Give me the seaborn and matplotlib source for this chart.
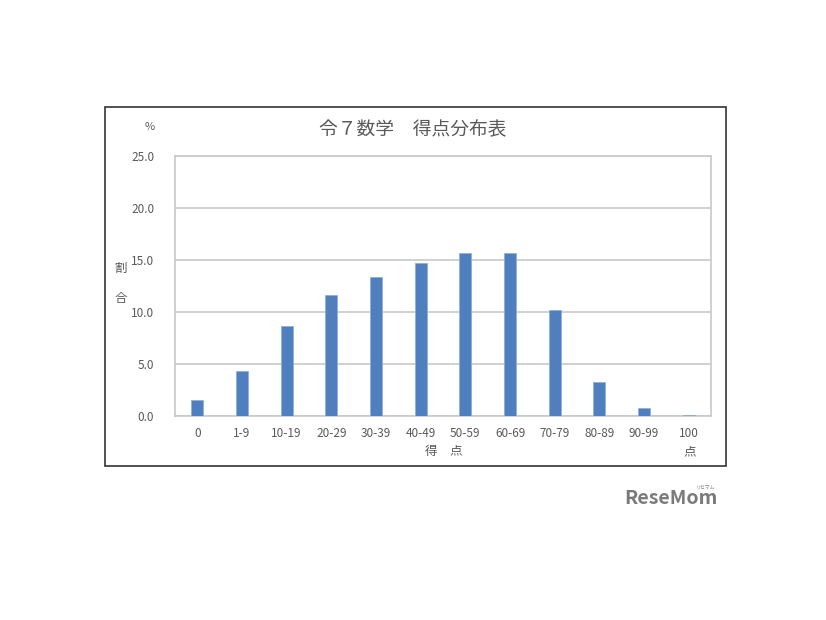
import matplotlib
matplotlib.use("Agg")
import matplotlib.pyplot as plt
import seaborn as sns
import pandas as pd
from matplotlib.patches import Rectangle

categories = ["0", "1-9", "10-19", "20-29", "30-39", "40-49", "50-59",
              "60-69", "70-79", "80-89", "90-99", "100"]
values = [1.5, 4.3, 8.7, 11.6, 13.4, 14.7, 15.7, 15.7, 10.2, 3.3, 0.8, 0.1]
yticks = [0, 5, 10, 15, 20, 25]

sns.set_theme(style="white")
plt.rcParams['font.family'] = ['Noto Sans CJK JP', 'DejaVu Sans']

df = pd.DataFrame({"cat": categories, "val": values})

fig = plt.figure(figsize=(8.26, 6.2), dpi=100)
fig.patch.set_facecolor("white")
ax = fig.add_axes([175/826, 1-416/620, (711-175)/826, (416-156)/620])

sns.barplot(data=df, x="cat", y="val", color="#4f7fbe", width=0.27,
            saturation=1, ax=ax, zorder=3)
for p in ax.patches:
    p.set_edgecolor("#8fb0dc")
    p.set_linewidth(0.6)

ax.set_xlim(-0.5, len(categories) - 0.5)
ax.set_ylim(0, 25)
ax.set_yticks(yticks)
ax.set_yticklabels([f"{v:.1f}" for v in yticks])
ax.yaxis.grid(True, color="#c8c8c8", linewidth=1.2, zorder=0)
ax.set_axisbelow(True)
for s in ax.spines.values():
    s.set_color("#c8c8c8")
    s.set_linewidth(1.2)
ax.tick_params(axis="both", length=0, labelsize=8.5, labelcolor="#595959")
ax.tick_params(axis="x", pad=8)
ax.tick_params(axis="y", pad=15)
ax.set_xlabel("")
ax.set_ylabel("")

gray = "#595959"
fig.text(0.5, 1-130/620, "令７数学　得点分布表", ha="center", va="center",
         fontsize=13.5, color=gray)
fig.text(150/826, 1-127/620, "%", ha="center", va="center", fontsize=8, color=gray)
fig.text(121/826, 1-268/620, "割", ha="center", va="center", fontsize=9, color=gray)
fig.text(121/826, 1-298/620, "合", ha="center", va="center", fontsize=9, color=gray)
fig.text(444/826, 1-452/620, "得　点", ha="center", va="center", fontsize=9, color=gray)
fig.text(690/826, 1-452/620, "点", ha="center", va="center", fontsize=9, color=gray)

fig.patches.append(Rectangle((105/826, 1-466/620), (726-105)/826, (466-107)/620,
                             transform=fig.transFigure, fill=False,
                             edgecolor="#333333", linewidth=1.2))

fig.text(671/826, 1-498/620, "ReseMom", ha="center", va="center",
         fontsize=14, fontweight="bold", color="#7a7a7a")
fig.text(706/826, 1-487/620, "リセマム", ha="center", va="center",
         fontsize=3.5, color="#7a7a7a")

fig.savefig("out.png", dpi=100, facecolor="white")
